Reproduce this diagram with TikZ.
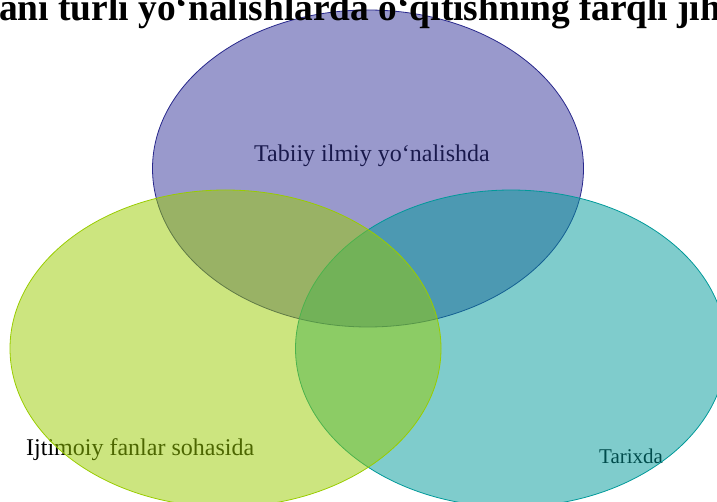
\documentclass[tikz,border=0pt]{standalone}
\usepackage{fontspec}
\setmainfont{Liberation Serif}
\begin{document}
\begin{tikzpicture}[x=1pt,y=-1pt,
  lbl/.style={anchor=base west,inner sep=0pt,text=black},
  venn/.style={line width=0.8pt,fill opacity=0.5},
]
\useasboundingbox (0,0) rectangle (717,502);
\definecolor{cpur}{RGB}{51,51,153}
\definecolor{cgrn}{RGB}{153,204,0}
\definecolor{ctea}{RGB}{0,153,153}
\definecolor{cpurd}{RGB}{40,40,140}
% labels beneath the sets
\node[lbl,font=\fontsize{24}{28}\selectfont] (tabiiy) at (254,162) {Tabiiy ilmiy yo‘nalishda};
\node[lbl,font=\fontsize{24}{28}\selectfont] (ijtim) at (26,455) {Ijtimoiy fanlar sohasida};
\node[lbl,font=\fontsize{21}{25}\selectfont] (tarix) at (599,463) {Tarixda};
% sets
\draw[venn,draw=cpurd,fill=cpur] (368,168.5) ellipse [x radius=215.5,y radius=158.5];
\draw[venn,draw=ctea,fill=ctea] (511,348.5) ellipse [x radius=215.5,y radius=158.5];
\draw[venn,draw=cgrn,fill=cgrn] (225.5,348.5) ellipse [x radius=215.5,y radius=158.5];
% title (clipped by the page)
\node[lbl,font=\bfseries\fontsize{38.5}{44}\selectfont] (title) at (-1,21) {\scalebox{0.972}[1]{ani turli yo‘nalishlarda o‘qitishning farqli jih}};
\end{tikzpicture}
\end{document}
